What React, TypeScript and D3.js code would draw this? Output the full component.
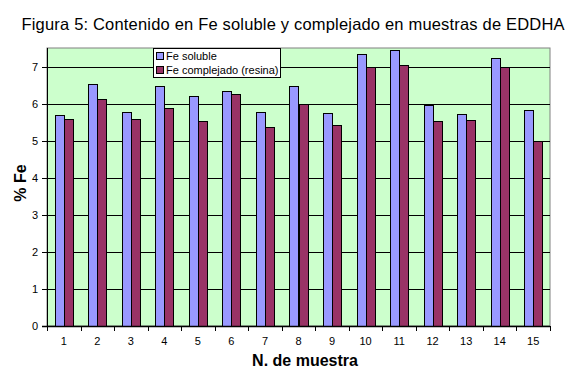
import React from "react";
import * as d3 from "d3";

const categories = ["1","2","3","4","5","6","7","8","9","10","11","12","13","14","15"];
const feSoluble = [5.69, 6.54, 5.78, 6.48, 6.21, 6.34, 5.76, 6.48, 5.75, 7.34, 7.45, 5.96, 5.72, 7.23, 5.83];
const feComplejado = [5.59, 6.13, 5.59, 5.88, 5.54, 6.27, 5.37, 5.99, 5.42, 6.98, 7.05, 5.54, 5.57, 6.98, 4.99];
const yTicks = [0, 1, 2, 3, 4, 5, 6, 7];
const seriesNames = ["Fe soluble", "Fe complejado (resina)"];
const colors = ["#9999FF", "#993366"];

export default function App() {
  const W = 567, H = 377;
  const left = 47, right = 550, top = 48, bottom = 326;
  const font = "Liberation Sans, Arial, sans-serif";
  const y = d3.scaleLinear().domain([0, 7.5]).range([bottom, top]);
  const x = d3.scaleBand<string>().domain(categories).range([left, right]).paddingInner(0).paddingOuter(0);
  const bw = x.bandwidth();
  const barW = bw * 0.27;
  const off = (bw - 2 * barW) / 2;
  const series = [feSoluble, feComplejado];

  return (
    <svg width={W} height={H} style={{ position: "absolute", left: 0, top: 0, background: "#fff" }} fontFamily={font}>
      <rect x={0} y={0} width={W} height={H} fill="#fff" />
      <text x={293} y={30} textAnchor="middle" fontSize={16.5} fill="#000" textLength={543} lengthAdjust="spacing">
        Figura 5: Contenido en Fe soluble y complejado en muestras de EDDHA
      </text>
      <rect x={left} y={top} width={right - left} height={bottom - top} fill="#CCFFCC" stroke="#808080" strokeWidth={1} />
      {yTicks.filter(t => t > 0).map(t => (
        <line key={t} x1={left} x2={right} y1={Math.round(y(t)) + 0.5} y2={Math.round(y(t)) + 0.5} stroke="#000" strokeWidth={1} />
      ))}
      {series.map((vals, si) =>
        categories.map((c, i) => {
          const x0 = (x(c) as number) + off + si * barW;
          const yv = y(vals[i]);
          return (
            <rect key={si + "-" + c} x={Math.round(x0) + 0.5} y={Math.round(yv) + 0.5} width={Math.round(barW)} height={bottom - Math.round(yv)}
              fill={colors[si]} stroke="#000" strokeWidth={1} />
          );
        })
      )}
      <line x1={left + 0.5} x2={left + 0.5} y1={top} y2={bottom + 1} stroke="#000" strokeWidth={1} />
      <line x1={left - 5} x2={right} y1={bottom + 0.5} y2={bottom + 0.5} stroke="#000" strokeWidth={1.5} />
      {yTicks.map(t => (
        <g key={"yt" + t}>
          <line x1={left - 5} x2={left} y1={Math.round(y(t)) + 0.5} y2={Math.round(y(t)) + 0.5} stroke="#000" />
          <text x={left - 9} y={y(t) + 4} textAnchor="end" fontSize={11} fill="#000">{t}</text>
        </g>
      ))}
      {categories.map((c) => (
        <g key={"xt" + c}>
          <line x1={Math.round(x(c) as number) + 0.5} x2={Math.round(x(c) as number) + 0.5} y1={bottom} y2={bottom + 5} stroke="#000" />
          <text x={(x(c) as number) + bw / 2} y={345} textAnchor="middle" fontSize={11} fill="#000">{c}</text>
        </g>
      ))}
      <line x1={right + 0.5} x2={right + 0.5} y1={bottom} y2={bottom + 5} stroke="#000" />
      <text x={305} y={366} textAnchor="middle" fontSize={16} fontWeight="bold" fill="#000">N. de muestra</text>
      <text transform={`translate(26,183) rotate(-90)`} textAnchor="middle" fontSize={16} fontWeight="bold" fill="#000">% Fe</text>
      <rect x={153.5} y={48.5} width={127} height={29} fill="#fff" stroke="#000" strokeWidth={1} />
      {seriesNames.map((n, i) => (
        <g key={n}>
          <rect x={156.5} y={52.5 + i * 14} width={7} height={7} fill={colors[i]} stroke="#000" strokeWidth={1} />
          <text x={166} y={60 + i * 14} fontSize={11} fill="#000">{n}</text>
        </g>
      ))}
    </svg>
  );
}
